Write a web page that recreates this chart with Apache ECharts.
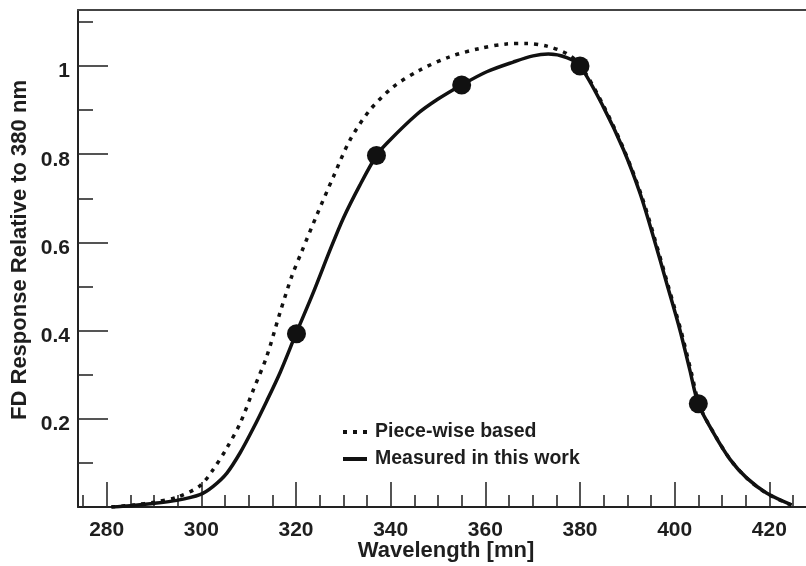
<!DOCTYPE html>
<html>
<head>
<meta charset="utf-8">
<script src="https://cdn.jsdelivr.net/npm/echarts@6/dist/echarts.min.js"></script>
<style>html,body{margin:0;padding:0;background:#fff}#c{width:806px;height:566px}</style>
</head>
<body>
<div id="c"></div>
<script>
// ---- data ----
const X_MAJOR = [280, 300, 320, 340, 360, 380, 400, 420];
const X_MINOR = [275, 285, 290, 295, 305, 310, 315, 325, 330, 335, 345, 350, 355, 365, 370, 375, 385, 390, 395, 405, 410, 415, 425];
const Y_MAJOR = [0.2, 0.4, 0.6, 0.8, 1.0];
const Y_MINOR = [0.1, 0.3, 0.5, 0.7, 0.9, 1.1];

const pieceWise = [
  [281, 0.0], [286, 0.005], [290, 0.011], [294.8, 0.022], [299.7, 0.048], [302.5, 0.085],
  [305.4, 0.134], [308.2, 0.19], [311, 0.266], [313.8, 0.341], [316.6, 0.44], [319.1, 0.523],
  [321.2, 0.579], [324.4, 0.662], [327.9, 0.749], [331.4, 0.832], [335.6, 0.9], [340.6, 0.953],
  [346.2, 0.991], [352.5, 1.021], [358.9, 1.04], [364.5, 1.05], [368.7, 1.051], [373, 1.045],
  [377.2, 1.028], [380.2, 1.0], [385.2, 0.905], [389.5, 0.805], [393, 0.706], [395.8, 0.608],
  [398.6, 0.503], [401.4, 0.397], [403.5, 0.306], [405.3, 0.229], [408.5, 0.163], [412, 0.104],
  [415.5, 0.063], [419.6, 0.03], [424.7, 0.004]
];

const measured = [
  [281, 0.0], [285, 0.003], [289.8, 0.008], [294.8, 0.015], [299.7, 0.028], [302.5, 0.047],
  [305.4, 0.077], [308.2, 0.123], [311, 0.179], [313.8, 0.24], [316.6, 0.304], [320, 0.393],
  [323.6, 0.485], [327.2, 0.583], [330, 0.655], [333.5, 0.73], [337, 0.797], [339.2, 0.825],
  [345.5, 0.89], [350, 0.925], [355, 0.957], [360.3, 0.987], [365.9, 1.009], [370.1, 1.023],
  [373.3, 1.027], [377.2, 1.019], [380, 1.0], [384.9, 0.908], [389.2, 0.81], [392.7, 0.711],
  [395.5, 0.613], [398.3, 0.508], [401.1, 0.402], [403.2, 0.311], [405, 0.234], [408.2, 0.168],
  [411.7, 0.108], [415.2, 0.066], [419.4, 0.032], [424.7, 0.005]
];

const measuredPoints = [[320.1, 0.393], [337, 0.797], [355, 0.957], [380, 1.0], [405, 0.234]];

const X_MIN = 273.94, X_MAX = 427.75, Y_MIN = 0, Y_MAX = 1.127;
const FONT = "'Liberation Sans', Arial, Helvetica, sans-serif";
const TXT = '#1e1e1e';

const chart = echarts.init(document.getElementById('c'), null, {renderer: 'canvas'});
chart.setOption({
  animation: false,
  backgroundColor: '#fff',
  grid: {left: 78, right: 0, top: 10, bottom: 59, containLabel: false, outerBoundsMode: 'none'},
  legend: {
    orient: 'vertical', left: 338, top: 417, padding: 5,
    itemWidth: 24, itemHeight: 4, itemGap: 7,
    selectedMode: false,
    itemStyle: {color: '#111', borderWidth: 0},
    data: [
      {name: 'Piece-wise based', icon: 'path://M0,0h4v4h-4z M10,0h4v4h-4z M20,0h4v4h-4z'},
      {name: 'Measured in this work', icon: 'path://M0,0h24v4h-24z'}
    ],
    textStyle: {fontSize: 19.5, fontWeight: 'bold', color: TXT, fontFamily: FONT, padding: [0, 0, 0, 3]}
  },
  xAxis: [
    {
      type: 'value', min: X_MIN, max: X_MAX, position: 'bottom',
      axisLine: {show: true, lineStyle: {color: '#222', width: 2}},
      axisTick: {show: true, inside: true, length: 25, lineStyle: {color: '#2a2a2a', width: 1.6}, customValues: X_MAJOR},
      axisLabel: {customValues: X_MAJOR, fontSize: 21, fontWeight: 'bold', color: TXT, margin: 13, fontFamily: FONT},
      splitLine: {show: false},
      name: 'Wavelength [mn]', nameLocation: 'middle', nameGap: 33, nameMoveOverlap: false,
      nameTextStyle: {fontSize: 22, fontWeight: 'bold', color: TXT, fontFamily: FONT, padding: [0, 0, 0, 8]}
    },
    {
      type: 'value', min: X_MIN, max: X_MAX, position: 'bottom',
      axisLine: {show: false},
      axisTick: {show: true, inside: true, length: 12, lineStyle: {color: '#2a2a2a', width: 1.6}, customValues: X_MINOR},
      axisLabel: {show: false}, splitLine: {show: false}
    },
    {
      type: 'value', min: X_MIN, max: X_MAX, position: 'top',
      axisLine: {show: true, lineStyle: {color: '#444', width: 2}},
      axisTick: {show: false}, axisLabel: {show: false}, splitLine: {show: false}
    }
  ],
  yAxis: [
    {
      type: 'value', min: Y_MIN, max: Y_MAX, position: 'left',
      axisLine: {show: true, lineStyle: {color: '#222', width: 2}},
      axisTick: {show: true, inside: true, length: 30, lineStyle: {color: '#2a2a2a', width: 1.6}, customValues: Y_MAJOR},
      axisLabel: {customValues: Y_MAJOR, fontSize: 21, fontWeight: 'bold', color: TXT, margin: 8, fontFamily: FONT,
        verticalAlign: 'top', lineHeight: 11,
        formatter: v => (Math.abs(v - 1) < 1e-9 ? '1' : String(+v.toFixed(1)))},
      splitLine: {show: false},
      name: 'FD Response Relative to 380 nm', nameLocation: 'middle', nameGap: 47, nameMoveOverlap: false,
      nameTextStyle: {fontSize: 22, fontWeight: 'bold', color: TXT, fontFamily: FONT, padding: [0, 0, 0, 17]}
    },
    {
      type: 'value', min: Y_MIN, max: Y_MAX, position: 'left',
      axisLine: {show: false},
      axisTick: {show: true, inside: true, length: 15, lineStyle: {color: '#2a2a2a', width: 1.6}, customValues: Y_MINOR},
      axisLabel: {show: false}, splitLine: {show: false}
    }
  ],
  series: [
    {
      name: 'Piece-wise based', type: 'line', data: pieceWise, smooth: 0.3,
      showSymbol: false, symbol: 'none',
      lineStyle: {color: '#111', width: 3.5, type: [4, 6]},
      itemStyle: {color: '#111'}, z: 2
    },
    {
      name: 'Measured in this work', type: 'line', data: measured, smooth: 0.3,
      showSymbol: false, symbol: 'none',
      lineStyle: {color: '#111', width: 3.5},
      itemStyle: {color: '#111'}, z: 3
    },
    {
      name: 'points', type: 'scatter', data: measuredPoints, symbol: 'circle', symbolSize: 19,
      itemStyle: {color: '#111', opacity: 1}, z: 4
    }
  ]
});
</script>
</body>
</html>
